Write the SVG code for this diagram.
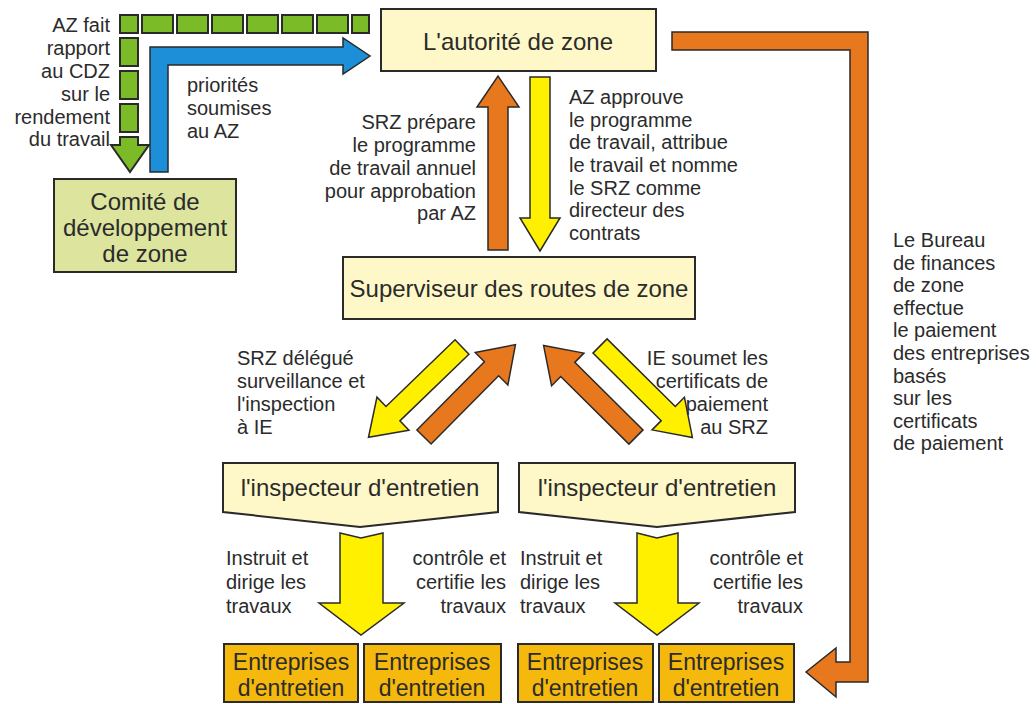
<svg xmlns="http://www.w3.org/2000/svg" width="1036" height="704" viewBox="0 0 1036 704">
<style>
text{font-family:"Liberation Sans",Arial,sans-serif;fill:#2b2b2b}
.lbl{font-size:20px}
.box{font-size:24px;text-anchor:middle}
.ent{font-size:23px;text-anchor:middle}
.pale{fill:#FEF8C8;stroke:#2a2a2a;stroke-width:2}
.green{fill:#DCE49E;stroke:#2a2a2a;stroke-width:2}
.gold{fill:#F5B80C;stroke:#2a2a2a;stroke-width:2}
.org{fill:#E8781E;stroke:#2a2a2a;stroke-width:1.5}
.yel{fill:#FFF000;stroke:#2a2a2a;stroke-width:1.5}
.blu{fill:#1C8FD8;stroke:#2a2a2a;stroke-width:1.5}
.gsq{fill:#7CBB28;stroke:#2a2a2a;stroke-width:2}
.end{text-anchor:end}
</style>
<defs>
<polygon id="diag" points="0,-10 96,-10 96,-23 130,0 96,23 96,10 0,10"/>
</defs>
<g id="connectors">
<g id="green-report">
<rect class="gsq" x="120" y="15" width="18" height="18"/>
<rect class="gsq" x="142" y="15" width="31" height="18"/>
<rect class="gsq" x="177" y="15" width="31" height="18"/>
<rect class="gsq" x="212" y="15" width="31" height="18"/>
<rect class="gsq" x="247" y="15" width="31" height="18"/>
<rect class="gsq" x="282" y="15" width="31" height="18"/>
<rect class="gsq" x="317" y="15" width="31" height="18"/>
<rect class="gsq" x="352" y="15" width="17" height="18"/>
<rect class="gsq" x="120" y="38" width="18" height="28"/>
<rect class="gsq" x="120" y="71" width="18" height="28"/>
<rect class="gsq" x="120" y="104" width="18" height="28"/>
<polygon class="gsq" points="120,137 138,137 138,145 149,145 130,172 111,145 120,145"/>
</g>
<path class="blu" d="M150,172 V47 H343 V38 L370,56 L343,74 V65 H168 V172 Z"/>
<polygon class="org" points="488,250 488,107 477,107 498,76 519,107 508,107 508,250"/>
<polygon class="yel" points="530,77 550,77 550,218 560,218 540,251 520,218 530,218"/>
<use href="#diag" class="yel" transform="translate(462,347) rotate(136)"/>
<use href="#diag" class="org" transform="translate(424,437) rotate(-45.3)"/>
<use href="#diag" class="org" transform="translate(636,437) rotate(-135.3)"/>
<use href="#diag" class="yel" transform="translate(600,346) rotate(44.7)"/>
<polygon class="yel" points="340,533 361,538 383,533 383,603 404,603 361,635 319,603 340,603"/>
<polygon class="yel" points="637,533 657,538 678,533 678,603 699,603 657,635 615,603 637,603"/>
<path class="org" d="M672,32 H868 V682 H836 V697 L806,672 L836,648 V662 H850 V50 H672 Z"/>
</g>
<g id="labels">
<text class="lbl end" x="110" y="32">AZ fait</text>
<text class="lbl end" x="110" y="55">rapport</text>
<text class="lbl end" x="110" y="78">au CDZ</text>
<text class="lbl end" x="110" y="101">sur le</text>
<text class="lbl end" x="110" y="124">rendement</text>
<text class="lbl end" x="110" y="146">du travail</text>
<text class="lbl" x="187" y="92">priorités</text>
<text class="lbl" x="187" y="115">soumises</text>
<text class="lbl" x="187" y="138">au AZ</text>
<text class="lbl end" x="476" y="129">SRZ prépare</text>
<text class="lbl end" x="476" y="152">le programme</text>
<text class="lbl end" x="476" y="175">de travail annuel</text>
<text class="lbl end" x="476" y="198">pour approbation</text>
<text class="lbl end" x="476" y="220">par AZ</text>
<text class="lbl" x="569" y="104">AZ approuve</text>
<text class="lbl" x="569" y="127">le programme</text>
<text class="lbl" x="569" y="149">de travail, attribue</text>
<text class="lbl" x="569" y="172">le travail et nomme</text>
<text class="lbl" x="569" y="195">le SRZ comme</text>
<text class="lbl" x="569" y="217">directeur des</text>
<text class="lbl" x="569" y="240">contrats</text>
<text class="lbl" x="237" y="365">SRZ délégué</text>
<text class="lbl" x="237" y="388">surveillance et</text>
<text class="lbl" x="237" y="411">l'inspection</text>
<text class="lbl" x="237" y="434">à IE</text>
<text class="lbl end" x="768" y="365">IE soumet les</text>
<text class="lbl end" x="768" y="388">certificats de</text>
<text class="lbl end" x="768" y="411">paiement</text>
<text class="lbl end" x="768" y="434">au SRZ</text>
<text class="lbl" x="226" y="565">Instruit et</text>
<text class="lbl" x="226" y="589">dirige les</text>
<text class="lbl" x="226" y="613">travaux</text>
<text class="lbl end" x="506" y="565">contrôle et</text>
<text class="lbl end" x="506" y="589">certifie les</text>
<text class="lbl end" x="506" y="613">travaux</text>
<text class="lbl" x="520" y="565">Instruit et</text>
<text class="lbl" x="520" y="589">dirige les</text>
<text class="lbl" x="520" y="613">travaux</text>
<text class="lbl end" x="803" y="565">contrôle et</text>
<text class="lbl end" x="803" y="589">certifie les</text>
<text class="lbl end" x="803" y="613">travaux</text>
<text class="lbl" x="893" y="247">Le Bureau</text>
<text class="lbl" x="893" y="270">de finances</text>
<text class="lbl" x="893" y="292">de zone</text>
<text class="lbl" x="893" y="315">effectue</text>
<text class="lbl" x="893" y="337">le paiement</text>
<text class="lbl" x="893" y="360">des entreprises</text>
<text class="lbl" x="893" y="383">basés</text>
<text class="lbl" x="893" y="405">sur les</text>
<text class="lbl" x="893" y="428">certificats</text>
<text class="lbl" x="893" y="450">de paiement</text>
</g>
<g id="node-az">
<rect class="pale" x="381" y="9" width="275" height="62"/>
<text class="box" x="518" y="50">L'autorité de zone</text>
</g>
<g id="node-cdz">
<rect class="green" x="54" y="179" width="182" height="93"/>
<text class="box" x="145" y="210">Comité de</text>
<text class="box" x="145" y="236">développement</text>
<text class="box" x="145" y="262">de zone</text>
</g>
<g id="node-srz">
<rect class="pale" x="343" y="257" width="352" height="62"/>
<text class="box" x="519" y="297">Superviseur des routes de zone</text>
</g>
<g id="node-ie1">
<polygon class="pale" points="223,463 498,463 498,512 360,527 223,512"/>
<text class="box" x="360" y="496">l'inspecteur d'entretien</text>
</g>
<g id="node-ie2">
<polygon class="pale" points="519,463 795,463 795,512 657,527 519,512"/>
<text class="box" x="657" y="496">l'inspecteur d'entretien</text>
</g>
<g id="node-ent1">
<rect class="gold" x="224" y="644" width="134" height="58"/>
<text class="ent" x="291" y="670">Entreprises</text>
<text class="ent" x="291" y="696">d'entretien</text>
</g>
<g id="node-ent2">
<rect class="gold" x="364" y="644" width="137" height="58"/>
<text class="ent" x="432" y="670">Entreprises</text>
<text class="ent" x="432" y="696">d'entretien</text>
</g>
<g id="node-ent3">
<rect class="gold" x="518" y="644" width="135" height="58"/>
<text class="ent" x="585" y="670">Entreprises</text>
<text class="ent" x="585" y="696">d'entretien</text>
</g>
<g id="node-ent4">
<rect class="gold" x="659" y="644" width="135" height="58"/>
<text class="ent" x="726" y="670">Entreprises</text>
<text class="ent" x="726" y="696">d'entretien</text>
</g>
</svg>
